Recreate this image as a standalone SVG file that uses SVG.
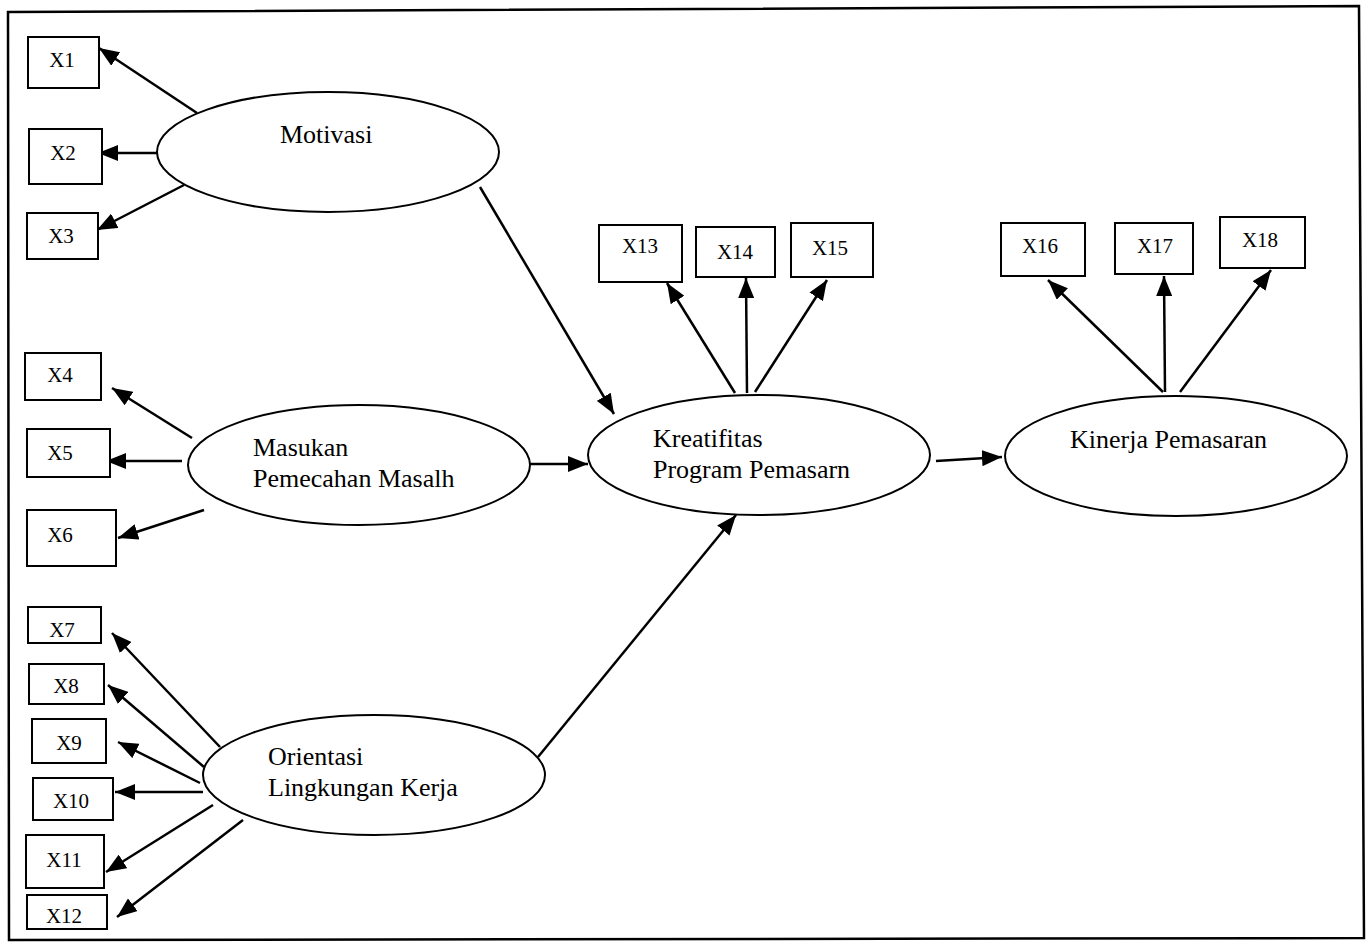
<svg xmlns="http://www.w3.org/2000/svg" width="1370" height="945" viewBox="0 0 1370 945">
<style>
.box{fill:#fff;stroke:#000;stroke-width:2}
.ell{fill:#fff;stroke:#000;stroke-width:2}
.bl{font-family:"Liberation Serif","Times New Roman",serif;font-size:21px;fill:#000;text-anchor:middle}
.el{font-family:"Liberation Serif","Times New Roman",serif;font-size:26px;fill:#000}
.c{stroke:#000;stroke-width:2.5;fill:none;marker-end:url(#ah)}
</style>
<defs>
<marker id="ah" markerUnits="userSpaceOnUse" markerWidth="20" markerHeight="16" refX="20" refY="8" orient="auto">
<path d="M0,0 L20,8 L0,16 z" fill="#000"/>
</marker>
</defs>
<rect width="1370" height="945" fill="#fff"/>
<path d="M8,12 L1359,6 L1364,938 L9,940 Z" fill="none" stroke="#000" stroke-width="2.5"/>

<g id="connectors">
<line class="c" x1="197" y1="113" x2="99" y2="48"/>
<line class="c" x1="157" y1="153" x2="98" y2="153"/>
<line class="c" x1="184" y1="185" x2="97" y2="230"/>
<line class="c" x1="480" y1="187" x2="614" y2="414"/>
<line class="c" x1="192" y1="438" x2="112" y2="388"/>
<line class="c" x1="182" y1="461" x2="106" y2="461"/>
<line class="c" x1="204" y1="510" x2="118" y2="538"/>
<line class="c" x1="530" y1="464" x2="588" y2="464"/>
<line class="c" x1="220" y1="747" x2="112" y2="633"/>
<line class="c" x1="204" y1="767" x2="108" y2="685"/>
<line class="c" x1="200" y1="783" x2="118" y2="742"/>
<line class="c" x1="203" y1="792" x2="115" y2="792"/>
<line class="c" x1="213" y1="805" x2="106" y2="872"/>
<line class="c" x1="243" y1="820" x2="117" y2="917"/>
<line class="c" x1="538" y1="757" x2="736" y2="515"/>
<line class="c" x1="735" y1="393" x2="667" y2="283"/>
<line class="c" x1="747" y1="393" x2="746" y2="278"/>
<line class="c" x1="755" y1="392" x2="827" y2="280"/>
<line class="c" x1="936" y1="461" x2="1002" y2="457"/>
<line class="c" x1="1163" y1="392" x2="1048" y2="280"/>
<line class="c" x1="1165" y1="392" x2="1164" y2="276"/>
<line class="c" x1="1180" y1="392" x2="1271" y2="270"/>
</g>

<g id="X1"><rect class="box" x="28" y="37" width="71" height="51"/><text class="bl" x="62" y="67">X1</text></g>
<g id="X2"><rect class="box" x="29" y="129" width="73" height="55"/><text class="bl" x="63" y="160">X2</text></g>
<g id="X3"><rect class="box" x="27" y="213" width="71" height="46"/><text class="bl" x="61" y="243">X3</text></g>
<g id="X4"><rect class="box" x="25" y="353" width="76" height="47"/><text class="bl" x="60" y="382">X4</text></g>
<g id="X5"><rect class="box" x="27" y="429" width="83" height="48"/><text class="bl" x="60" y="460">X5</text></g>
<g id="X6"><rect class="box" x="27" y="510" width="89" height="56"/><text class="bl" x="60" y="542">X6</text></g>
<g id="X7"><rect class="box" x="28" y="607" width="73" height="36"/><text class="bl" x="62" y="637">X7</text></g>
<g id="X8"><rect class="box" x="29" y="664" width="75" height="40"/><text class="bl" x="66" y="693">X8</text></g>
<g id="X9"><rect class="box" x="32" y="719" width="74" height="44"/><text class="bl" x="69" y="750">X9</text></g>
<g id="X10"><rect class="box" x="33" y="778" width="80" height="42"/><text class="bl" x="71" y="808">X10</text></g>
<g id="X11"><rect class="box" x="26" y="835" width="78" height="53"/><text class="bl" x="64" y="867">X11</text></g>
<g id="X12"><rect class="box" x="27" y="895" width="80" height="34"/><text class="bl" x="64" y="923">X12</text></g>
<g id="X13"><rect class="box" x="599" y="225" width="83" height="57"/><text class="bl" x="640" y="253">X13</text></g>
<g id="X14"><rect class="box" x="696" y="227" width="79" height="50"/><text class="bl" x="735" y="259">X14</text></g>
<g id="X15"><rect class="box" x="791" y="223" width="82" height="54"/><text class="bl" x="830" y="255">X15</text></g>
<g id="X16"><rect class="box" x="1001" y="223" width="84" height="53"/><text class="bl" x="1040" y="253">X16</text></g>
<g id="X17"><rect class="box" x="1115" y="223" width="78" height="51"/><text class="bl" x="1155" y="253">X17</text></g>
<g id="X18"><rect class="box" x="1220" y="217" width="85" height="51"/><text class="bl" x="1260" y="247">X18</text></g>

<g id="motivasi"><ellipse class="ell" cx="328" cy="152" rx="171" ry="60"/><text class="el" x="280" y="143">Motivasi</text></g>
<g id="masukan"><ellipse class="ell" cx="359" cy="465" rx="171" ry="60"/><text class="el" x="253" y="456">Masukan</text><text class="el" x="253" y="487">Pemecahan Masalh</text></g>
<g id="orientasi"><ellipse class="ell" cx="374" cy="775" rx="171" ry="60"/><text class="el" x="268" y="765">Orientasi</text><text class="el" x="268" y="796">Lingkungan Kerja</text></g>
<g id="kreatifitas"><ellipse class="ell" cx="759" cy="455" rx="171" ry="60"/><text class="el" x="653" y="447">Kreatifitas</text><text class="el" x="653" y="478">Program Pemasarn</text></g>
<g id="kinerja"><ellipse class="ell" cx="1176" cy="456" rx="171" ry="60"/><text class="el" x="1070" y="448">Kinerja Pemasaran</text></g>
</svg>
